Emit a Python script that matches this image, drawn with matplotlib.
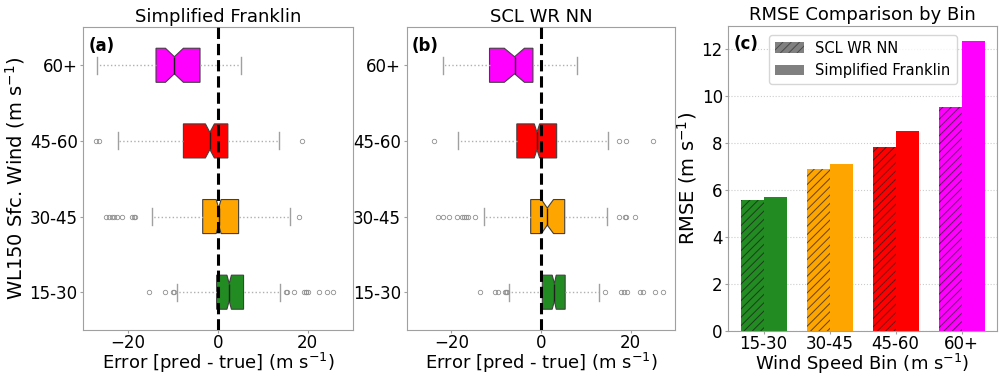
import numpy as np
import matplotlib
matplotlib.use('Agg')
import matplotlib.pyplot as plt
from matplotlib.patches import Patch

bins = ['15-30', '30-45', '45-60', '60+']
colors = ['forestgreen', 'orange', 'red', 'magenta']

# box statistics per bin: whislo, q1, med, q3, whishi, cilo, cihi
franklin_stats = [
    [-9.1, -0.3, 2.5, 5.7, 13.9, 2.0, 3.0],
    [-14.8, -3.4, 0.15, 4.6, 16.1, -0.4, 0.7],
    [-22.3, -7.7, -1.8, 2.2, 13.5, -2.8, -0.8],
    [-27.0, -13.8, -9.7, -4.0, 5.2, -11.7, -7.7],
]
franklin_fliers = [
    [-15.4, -11.9, -10.0, -9.7, 15.1, 15.4, 17.0, 19.1, 19.5, 19.7, 20.0, 22.5, 24.3, 25.6],
    [-24.9, -24.3, -23.7, -23.2, -22.6, -21.3, -19.1, -18.8, -18.5, 18.1],
    [-27.2, -26.6, 18.8],
    [],
]
sclnn_stats = [
    [-7.1, 0.3, 3.0, 5.4, 12.9, 2.5, 3.4],
    [-12.8, -2.3, 1.4, 5.3, 14.8, 0.1, 2.8],
    [-18.6, -5.4, -0.9, 3.5, 15.0, -1.5, -0.3],
    [-21.9, -11.5, -5.9, -1.8, 8.1, -8.2, -3.7],
]
sclnn_fliers = [
    [-13.6, -10.2, -9.6, -8.1, -7.8, -7.6, 14.3, 17.9, 18.5, 19.3, 22.2, 22.8, 25.4, 27.3],
    [-22.9, -22.0, -20.5, -18.7, -17.7, -17.2, -16.7, -16.3, -14.7, 17.5, 18.7, 19.0, 21.1],
    [-23.8, 17.5, 19.0, 25.1],
    [],
]

rmse_sclnn = [5.59, 6.88, 7.81, 9.54]
rmse_franklin = [5.71, 7.12, 8.51, 12.36]

plt.rcParams['font.family'] = 'DejaVu Sans'
plt.rcParams['hatch.linewidth'] = 0.7
spine_col = '#a0a0a0'


def make_stats(stats, fliers):
    out = []
    for s, f in zip(stats, fliers):
        out.append(dict(whislo=s[0], q1=s[1], med=s[2], q3=s[3], whishi=s[4],
                        cilo=s[5], cihi=s[6], fliers=np.array(f)))
    return out


def style_axes(ax):
    ax.tick_params(labelsize=12, color=spine_col, length=2, pad=2)
    ax.tick_params(axis='x', pad=1)
    for sp in ax.spines.values():
        sp.set_color(spine_col)


def draw_box(ax, stats, fliers, title, tag):
    bp = ax.bxp(make_stats(stats, fliers), positions=range(1, 5), widths=0.45,
                vert=False, shownotches=True, patch_artist=True,
                boxprops=dict(edgecolor='#404040', linewidth=0.8),
                medianprops=dict(color='#202020', linewidth=1.0),
                whiskerprops=dict(color='#b0b0b0', linestyle=':', linewidth=1.0),
                capprops=dict(color='#a0a0a0', linewidth=1.0),
                flierprops=dict(marker='o', markersize=3.2, markerfacecolor='none',
                                markeredgecolor='#909090', markeredgewidth=0.6))
    for patch, c in zip(bp['boxes'], colors):
        patch.set_facecolor(c)
    ax.axvline(0, color='k', linestyle='--', linewidth=2.2, zorder=5)
    ax.set_xlim(-30, 30)
    ax.set_ylim(0.5, 4.5)
    ax.set_yticks(range(1, 5))
    ax.set_yticklabels(bins)
    ax.set_xticks([-20, 0, 20])
    ax.set_title(title, fontsize=13, pad=4)
    ax.set_xlabel('Error [pred - true] (m s$^{-1}$)', fontsize=13, labelpad=-1)
    ax.text(0.02, 0.97, tag, transform=ax.transAxes, fontsize=12,
            fontweight='bold', va='top', ha='left')
    style_axes(ax)


fig = plt.figure(figsize=(10.01, 3.74), dpi=100)
ax1 = fig.add_axes([0.0832, 0.1176, 0.2691, 0.809])
ax2 = fig.add_axes([0.4063, 0.1176, 0.2683, 0.809])
ax3 = fig.add_axes([0.7276, 0.115, 0.2684, 0.8155])

draw_box(ax1, franklin_stats, franklin_fliers, 'Simplified Franklin', '(a)')
draw_box(ax2, sclnn_stats, sclnn_fliers, 'SCL WR NN', '(b)')
ax1.set_ylabel('WL150 Sfc. Wind (m s$^{-1}$)', fontsize=14, labelpad=2)

# RMSE bars, hatched for the network
x = np.arange(len(bins))
w = 0.35
ax3.bar(x - w / 2, rmse_sclnn, w, color=colors, linewidth=0, zorder=2)
ax3.bar(x - w / 2, rmse_sclnn, w, fill=False, hatch='////',
        edgecolor=(0.1, 0.1, 0.1, 0.7), linewidth=0, zorder=3)
ax3.bar(x + w / 2, rmse_franklin, w, color=colors, linewidth=0, zorder=2)
ax3.set_xticks(x)
ax3.set_xticklabels(bins)
ax3.set_yticks(range(0, 13, 2))
ax3.yaxis.grid(True, linestyle=':', color='#cccccc', linewidth=0.8, zorder=0)
ax3.set_axisbelow(True)
ax3.set_title('RMSE Comparison by Bin', fontsize=13, pad=4)
ax3.set_xlabel('Wind Speed Bin (m s$^{-1}$)', fontsize=13, labelpad=-1)
ax3.set_ylabel('RMSE (m s$^{-1}$)', fontsize=14, labelpad=2)
style_axes(ax3)
ax3.text(0.02, 0.97, '(c)', transform=ax3.transAxes, fontsize=12,
         fontweight='bold', va='top', ha='left')
handles = [Patch(facecolor='gray', edgecolor=(0.2, 0.2, 0.2, 0.7), linewidth=0,
                 hatch='////', label='SCL WR NN'),
           Patch(facecolor='gray', linewidth=0, label='Simplified Franklin')]
ax3.legend(handles=handles, loc='upper center', fontsize=10.5, framealpha=0.8,
           borderaxespad=0.6)

fig.savefig('out.png', dpi=100)
